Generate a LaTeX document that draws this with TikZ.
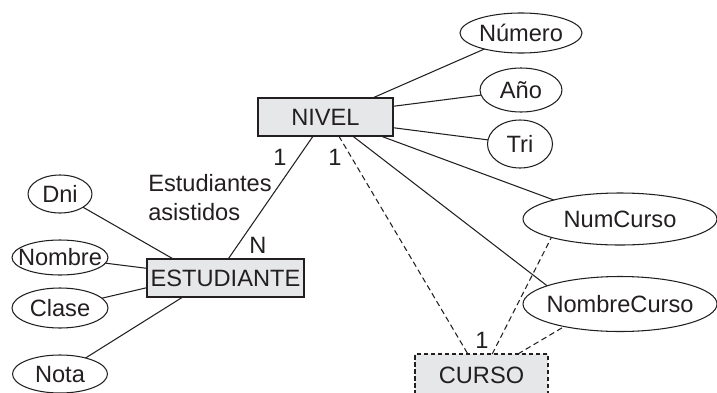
\documentclass[tikz,border=0pt]{standalone}
\usepackage{fontspec}
\setmainfont{Liberation Sans}
\usepackage{tikz}
\usetikzlibrary{shapes.geometric, positioning, calc}
\usepackage{xcolor}

\definecolor{boxgray}{HTML}{E6E7E8}
\definecolor{erink}{HTML}{231F20}

\tikzset{
  entity/.style={draw=erink, fill=boxgray, line width=0.85pt,
    inner sep=0pt, outer sep=0pt},
  attrib/.style={ellipse, draw=erink, line width=0.75pt,
    inner xsep=-0.6em, inner ysep=0pt, outer sep=0pt},
  link/.style={erink, line width=0.75pt},
  weak/.style={erink, line width=0.75pt, dash pattern=on 4pt off 2.5pt},
  card/.style={inner sep=0pt, text=erink}
}

\begin{document}
\begin{tikzpicture}[font=\fontsize{16.8}{20.6}\selectfont, text=erink]
  \useasboundingbox (0,0) rectangle (17.925,9.8);

  % entities
  \node[entity, minimum width=3.375cm, minimum height=0.95cm] (nivel) at (8.1375,6.875) {NIVEL};
  \node[entity, minimum width=3.925cm, minimum height=0.95cm] (estudiante) at (5.6375,2.85) {ESTUDIANTE};
  \node[entity, dash pattern=on 3pt off 2pt, minimum width=3.325cm, minimum height=1.05cm] (curso) at (12.0375,0.425) {CURSO};

  % attributes (name/text/x/y/width/height)
  \foreach \n/\t/\x/\y/\w/\h in {
      numero/Número/13.025/8.975/3.05/1.0,
      anio/Año/13.025/7.55/2.05/1.1,
      tri/Tri/13.0/6.2/1.625/1.2,
      numcurso/NumCurso/15.5/4.325/4.85/1.3,
      nombrecurso/NombreCurso/15.5/2.2/4.85/1.375,
      dni/Dni/1.5/4.95/1.6/0.95,
      nombre/Nombre/1.5/3.3625/2.4/0.875,
      clase/Clase/1.5/2.1/2.4/1.0,
      nota/Nota/1.5/0.45/2.375/0.95} {
    \node[attrib, minimum width=\w cm, minimum height=\h cm] (\n) at (\x,\y) {\t};
  }

  % solid connectors
  \foreach \a/\b in {nivel.22/numero, nivel.9/anio, nivel.351/tri,
      nivel.341/numcurso.164, nivel.325/nombrecurso.166,
      nivel.237/estudiante.82,
      estudiante.160/dni, estudiante.173/nombre,
      estudiante.187/clase, estudiante.204/nota} {
    \draw[link] (\a) -- (\b);
  }

  % dashed connectors of the weak entity
  \foreach \a/\b in {nivel.305/curso.123, curso.63/numcurso.195,
      curso.30/nombrecurso.202} {
    \draw[weak] (\a) -- (\b);
  }

  % cardinalities and relation name
  \node[card] (c1) at (7.0,5.875) {1};
  \node[card] (c2) at (8.375,5.875) {1};
  \node[card] (cn) at (6.45,3.675) {N};
  \node[card] (c3) at (12.05,1.3) {1};
  \node[card, anchor=west, align=left] (rel) at (3.7,4.8625) {Estudiantes\\asistidos};
\end{tikzpicture}
\end{document}
